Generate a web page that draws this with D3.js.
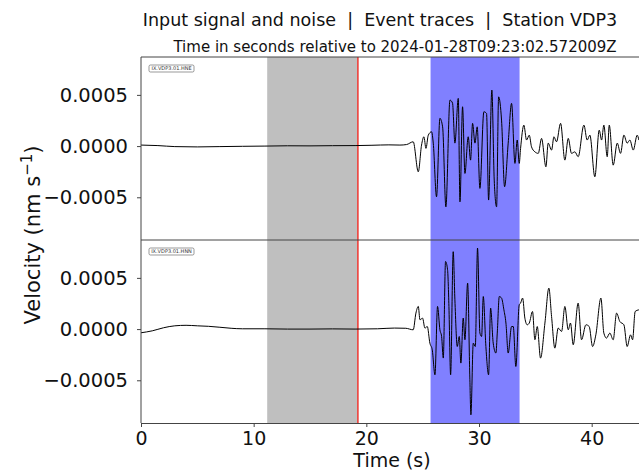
<!DOCTYPE html>
<html lang="en">
<head>
    <meta charset="UTF-8">
    <title>Input signal and noise | Event traces | Station VDP3</title>
    <script src="https://d3js.org/d3.v7.min.js"></script>
    <style>
        body { margin: 0; background: #fff; }
        text { font-family: "DejaVu Sans", sans-serif; }
    </style>
</head>
<body>
    <div id="chart"></div>

    <script>
        // Data (time in s, velocity in units of 1e-5 nm/s)
        var hneTime = [0, 1.5, 3, 5, 7, 9, 11, 13, 15, 17, 19, 20.5, 22, 22.98, 23.57,
            24.16, 24.61, 24.90, 25.11, 25.29, 25.50, 25.79, 25.94, 26.23, 26.53, 26.77, 27.06,
            27.42, 27.65, 27.86, 28.16, 28.31, 28.54, 28.75, 29.04, 29.25, 29.43, 29.64, 29.84,
            30.08, 30.43, 30.67, 30.85, 31.14, 31.35, 31.56, 31.74, 32.00, 32.27, 32.59, 32.89,
            33.19, 33.39, 33.57, 33.69, 33.98, 34.22, 34.46, 34.66, 34.96, 35.26, 35.55, 35.94,
            36.14, 36.44, 36.65, 36.88, 37.24, 37.62, 37.92, 38.21, 38.51, 38.80, 39.31, 39.60,
            39.84, 40.28, 40.67, 40.88, 41.08, 41.38, 41.56, 41.91, 42.27, 42.56, 42.86, 43.15,
            43.39, 43.69, 44.04, 44.19];
        var hneAmp = [1.0, 0.5, -0.5, -0.8, -0.5, -0.2, 0, 0.3, 0.2, 0.4, 0.5, 0.8, 1.2, 1.0, 1.5,
            4.2, -25.1, 1.0, 9.1, -2.2, 10.7, 14.0, 2.9, -49.5, 27.1, 18.8, -59.3,
            44.9, 42.0, 2.9, 46.6, -54.4, 38.4, -26.7, 9.1, -13.7, 22.2, 2.9, 18.8,
            -41.3, 33.5, 31.9, -52.7, 54.7, -33.2, -59.3, 48.1, 25.4, -39.7, 2.9, 41.7,
            -16.9, 5.9, -16.9, -2.2, 20.5, 5.9, 10.7, -0.7, -5.6, -7.1, 7.5, -20.2,
            2.9, -3.9, 9.1, 4.2, 22.2, -13.7, 7.5, -7.1, -5.6, -10.4, 20.5, 5.9,
            10.7, -30.0, 15.6, 5.9, 20.5, -10.4, 20.5, -18.6, 2.9, -7.1, 10.7, 2.9,
            5.9, -3.9, 10.7, 5.9];

        var hnnTime = [0, 1, 2, 3, 4, 5, 6, 7, 8, 9, 11, 13, 15, 17, 19, 21, 22.5, 23.5,
            24.16, 24.40, 24.61, 24.76, 24.99, 25.20, 25.41, 25.64, 25.85, 26.09, 26.32, 26.53,
            26.68, 26.83, 27.03, 27.21, 27.33, 27.48, 27.71, 27.86, 28.07, 28.25, 28.39, 28.60,
            28.75, 28.99, 29.19, 29.28, 29.49, 29.67, 29.87, 30.08, 30.23, 30.38, 30.61, 30.85,
            31.03, 31.26, 31.50, 31.62, 31.80, 32.00, 32.21, 32.39, 32.59, 32.89, 33.04, 33.27,
            33.57, 33.69, 33.87, 34.07, 34.28, 34.46, 34.75, 34.96, 35.17, 35.46, 35.85, 36.20,
            36.44, 36.73, 37.03, 37.33, 37.62, 37.92, 38.12, 38.36, 38.80, 39.10, 39.49, 39.78,
            40.08, 40.37, 40.82, 41.08, 41.32, 41.61, 41.91, 42.21, 42.50, 42.86, 43.15, 43.45,
            43.63, 43.86, 44.19];
        var hnnAmp = [-3.6, -1.7, 1.3, 3.2, 3.7, 3.2, 2.7, 1.8, 0.8, 0.3, 0.3, 0, 0, 0.2, 0, 0.3, 1.0, 0.8,
            -0.7, 15.6, 22.1, 9.1, 10.7, 1.0, 2.5, -13.7, -20.2, -44.6, 22.1, -0.7,
            -7.2, -28.3, 66.0, 57.9, 22.1, -44.6, 75.6, 28.6, -17.0, -7.2, -33.2, 10.7,
            -10.4, 44.9, -49.5, -83.7, -13.7, -17.0, 79.1, -3.9, -7.2, 31.8, -17.0, -44.6,
            20.5, -13.7, -23.4, -3.9, 31.8, 30.3, 18.8, 5.9, -23.4, 2.5, 2.5, -36.5,
            23.7, 25.4, 30.3, 10.7, 4.2, 5.9, 17.2, -10.4, 2.5, -28.3, 5.9, 40.0,
            12.3, -18.6, 1.0, -2.3, 22.1, -0.7, 5.9, -15.3, 25.4, -10.4, 4.2, 2.5,
            -17.0, -5.6, 30.3, -3.9, -8.8, -3.9, -10.4, 15.6, 7.4, 4.2, -17.0, -5.6,
            -10.4, 17.2, 18.8];

        var traceLabels = ["IX.VDP3.01.HNE", "IX.VDP3.01.HNN"];
        var noiseWindow = [11.2, 19.17];
        var pickTime = 19.25;
        var signalWindow = [25.7, 33.6];
        var xTicks = [0, 10, 20, 30, 40];
        var yTicks = [-0.0005, 0, 0.0005];

        var width = 639, height = 472;
        var margin = { left: 141, top: 57 };
        var panelHeight = 183;

        var svg = d3.select("#chart")
            .append("svg")
            .attr("width", width)
            .attr("height", height);

        var x = d3.scaleLinear()
            .domain([0, 44.2])
            .range([margin.left, width]);

        var traces = [
            { time: hneTime, amp: hneAmp, label: traceLabels[0] },
            { time: hnnTime, amp: hnnAmp, label: traceLabels[1] }
        ];

        var fmt = function (d) { return d3.format(".4f")(d).replace("-", "\u2212"); };

        traces.forEach(function (tr, i) {
            var top = margin.top + i * panelHeight;
            var y = d3.scaleLinear()
                .domain([-0.000917, 0.00087])
                .range([top + panelHeight, top]);

            var g = svg.append("g");

            svg.append("clipPath")
                .attr("id", "clip" + i)
                .append("rect")
                .attr("x", margin.left)
                .attr("y", top)
                .attr("width", width - margin.left)
                .attr("height", panelHeight);

            // Noise and signal windows
            g.append("rect")
                .attr("x", x(noiseWindow[0]))
                .attr("y", top)
                .attr("width", x(noiseWindow[1]) - x(noiseWindow[0]))
                .attr("height", panelHeight)
                .attr("fill", "#bfbfbf");

            g.append("rect")
                .attr("x", x(signalWindow[0]))
                .attr("y", top)
                .attr("width", x(signalWindow[1]) - x(signalWindow[0]))
                .attr("height", panelHeight)
                .attr("fill", "#8080ff");

            g.append("line")
                .attr("x1", x(pickTime)).attr("x2", x(pickTime))
                .attr("y1", top).attr("y2", top + panelHeight)
                .attr("stroke", "#e8302a")
                .attr("stroke-width", 1.5);

            // Trace
            var pts = tr.time.map(function (t, k) { return [t, tr.amp[k] * 1e-5]; });
            g.append("path")
                .datum(pts)
                .attr("clip-path", "url(#clip" + i + ")")
                .attr("fill", "none")
                .attr("stroke", "#000")
                .attr("stroke-width", 1)
                .attr("d", d3.line()
                    .curve(d3.curveMonotoneX)
                    .x(function (d) { return x(d[0]); })
                    .y(function (d) { return y(d[1]); }));

            // Station label box
            var lab = g.append("g").attr("transform", "translate(149," + (top + 8) + ")");
            lab.append("rect")
                .attr("x", 0).attr("y", 0)
                .attr("width", 45).attr("height", 7)
                .attr("rx", 1.5)
                .attr("fill", "#fff")
                .attr("stroke", "#555")
                .attr("stroke-width", 0.6);
            lab.append("text")
                .attr("x", 22.5).attr("y", 5.3)
                .attr("text-anchor", "middle")
                .style("font-size", "5px")
                .attr("fill", "#333")
                .text(tr.label);

            // Y axis
            var yAxis = svg.append("g")
                .attr("transform", "translate(" + margin.left + ",0)")
                .call(d3.axisLeft(y).tickValues(yTicks).tickFormat(fmt).tickSizeOuter(0).tickSize(4));
            yAxis.select(".domain").remove();
            yAxis.selectAll("line").attr("stroke", "#444");
            yAxis.selectAll("text")
                .attr("x", -13)
                .style("font-size", "19.5px")
                .attr("fill", "#111");
        });

        // Panel frame lines
        svg.append("line")
            .attr("x1", margin.left).attr("x2", width)
            .attr("y1", margin.top).attr("y2", margin.top)
            .attr("stroke", "#444");
        svg.append("line")
            .attr("x1", margin.left).attr("x2", width)
            .attr("y1", margin.top + panelHeight).attr("y2", margin.top + panelHeight)
            .attr("stroke", "#444");
        svg.append("line")
            .attr("x1", margin.left).attr("x2", margin.left)
            .attr("y1", margin.top).attr("y2", margin.top + 2 * panelHeight)
            .attr("stroke", "#444");

        // X axis
        var xAxis = svg.append("g")
            .attr("transform", "translate(0," + (margin.top + 2 * panelHeight) + ")")
            .call(d3.axisBottom(x).tickValues(xTicks).tickSizeOuter(0).tickSize(4));
        xAxis.select(".domain").attr("stroke", "#444");
        xAxis.selectAll("line").attr("stroke", "#444");
        xAxis.selectAll("text")
            .attr("y", 9)
            .style("font-size", "19px")
            .attr("fill", "#111");

        // Titles and axis labels
        svg.append("text")
            .attr("x", 380).attr("y", 26)
            .attr("text-anchor", "middle")
            .style("font-size", "17.5px")
            .style("white-space", "pre")
            .attr("fill", "#111")
            .text("Input signal and noise  |  Event traces  |  Station VDP3");

        svg.append("text")
            .attr("x", 395).attr("y", 52)
            .attr("text-anchor", "middle")
            .style("font-size", "15px")
            .attr("fill", "#111")
            .text("Time in seconds relative to 2024-01-28T09:23:02.572009Z");

        svg.append("text")
            .attr("x", 392).attr("y", 467)
            .attr("text-anchor", "middle")
            .style("font-size", "19px")
            .attr("fill", "#111")
            .text("Time (s)");

        var yl = svg.append("text")
            .attr("text-anchor", "middle")
            .attr("transform", "translate(40,235) rotate(-90)")
            .style("font-size", "21px")
            .attr("fill", "#111");
        yl.append("tspan").text("Velocity (nm s");
        yl.append("tspan").attr("dy", -8).style("font-size", "15px").text("\u22121");
        yl.append("tspan").attr("dy", 8).text(")");
    </script>
</body>
</html>
